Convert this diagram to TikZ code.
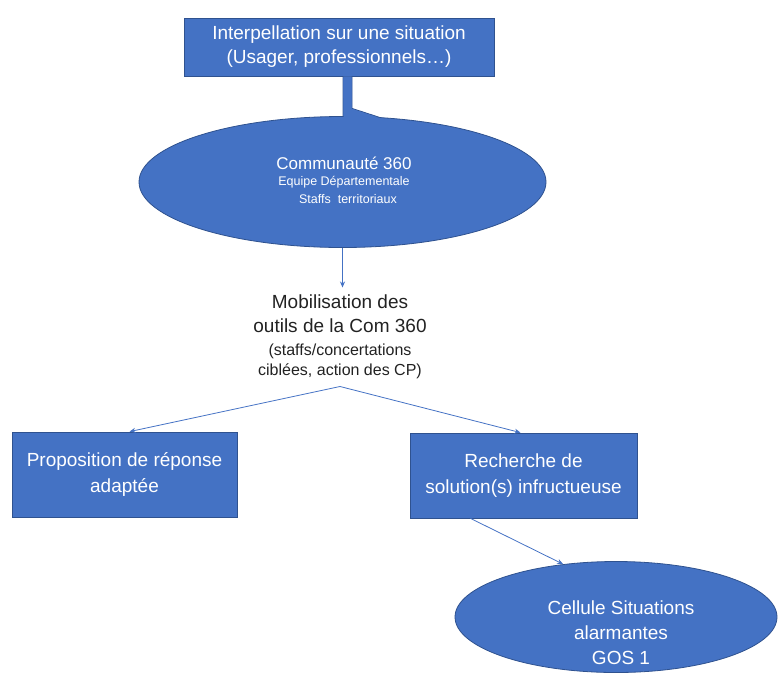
\documentclass[tikz,border=0pt]{standalone}
\usepackage{fontspec}
\setmainfont{Liberation Sans}
\usetikzlibrary{shapes.geometric,arrows.meta}
\definecolor{obl}{HTML}{4472C4}
\definecolor{obd}{HTML}{2F528F}
\definecolor{txt}{HTML}{222222}
\begin{document}
\begin{tikzpicture}[x=1pt,y=-1pt,
  box/.style={draw=obd, fill=obl, line width=0.8pt, text=white, align=center, inner sep=0pt},
  ell/.style={ellipse, draw=obd, fill=obl, line width=0.8pt, inner sep=0pt},
  wtext/.style={text=white, align=center, inner sep=0pt},
  conn/.style={draw=obl, line width=0.8pt, -{Stealth[length=6pt,width=5pt]}},
  big/.style={font=\fontsize{19}{24}\selectfont}]
\useasboundingbox (0,0) rectangle (779,673);

% top box
\node[box, big, minimum width=310, minimum height=58] (top) at (339,47)
  {Interpellation sur une situation\\(Usager, professionnels…)};

% callout pointer (behind ellipse)
\filldraw[fill=obl, draw=obd, line width=0.8pt] ([xshift=4pt]top.south) -- ++(9,0) -- ++(0,32) -- ++(40,13) -- ++(-49,0) -- cycle;

% ellipse Communauté 360
\node[ell, minimum width=407, minimum height=131] (com) at (342.5,182) {};
\fill[obl] ([xshift=4.4pt]top.south) -- ++(8.2,0) -- ++(0,32.4) -- ++(38,12.4) -- ++(-46,0) -- cycle;
\node[wtext, font=\fontsize{12.5}{18}\selectfont] (comtext) at (344,180)
  {{\fontsize{17}{19}\selectfont Communauté 360}\\[-2pt]
   Equipe Départementale\\
   \hspace*{8pt}Staffs\ \ territoriaux};

% mobilisation text
\node[text=txt, align=center, inner sep=2pt, font=\fontsize{16}{20.5}\selectfont] (mob) at (340,337)
  {{\fontsize{19}{24}\selectfont Mobilisation des}\\[4pt]
   {\fontsize{19}{24}\selectfont outils de la Com 360}\\[2pt]
   (staffs/concertations\\
   ciblées, action des CP)};

% lower boxes
\node[box, big, minimum width=225, minimum height=85] (left) at (124.5,474.5)
  {Proposition de réponse\\[2pt]adaptée};
\node[box, big, minimum width=227, minimum height=85] (right) at (523.5,475.5)
  {Recherche de\\[2pt]solution(s) infructueuse};

% bottom ellipse
\node[ell, minimum width=322, minimum height=111] (cell) at (616,617) {};
\node[wtext, font=\fontsize{19}{25}\selectfont] (celltext) at (621,633)
  {Cellule Situations\\alarmantes\\GOS 1};

% connectors
\draw[conn] (com.south) -- ([yshift=5pt]com.south |- mob.north);
\draw[conn] ([yshift=-5pt]mob.south) -- ([xshift=5pt]left.north);
\draw[conn] ([yshift=-5pt]mob.south) -- ([xshift=-3pt]right.north);
\draw[conn] ([xshift=-53pt]right.south) -- (cell.135);
\end{tikzpicture}
\end{document}
